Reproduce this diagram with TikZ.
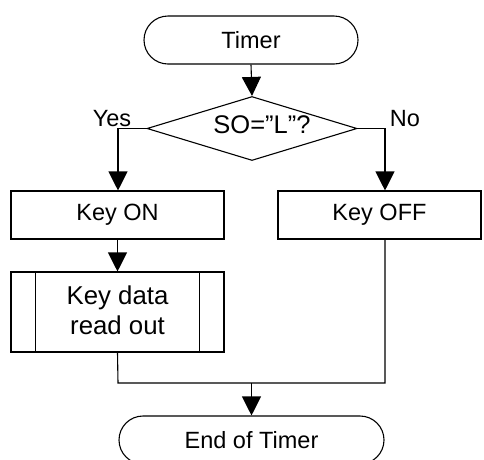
\documentclass[tikz,border=0pt]{standalone}
\usepackage{fontspec}
\setmainfont{Liberation Sans}
\usetikzlibrary{shapes.geometric,arrows.meta}
\begin{document}
\begin{tikzpicture}[x=1pt,y=-1pt,
  every node/.style={font=\fontsize{23.5}{26}\selectfont, inner sep=0pt},
  base/.style={draw, line width=1.1pt},
  term/.style={base, rounded corners=24pt, minimum height=48pt},
  box/.style={base, minimum height=48pt},
  dec/.style={base, diamond, minimum width=210pt, minimum height=64pt},
  conn/.style={line width=1.1pt},
  arr/.style={conn, -{Triangle[width=19pt,length=19pt]}},
  lab/.style={}]
\useasboundingbox (0,0) rectangle (484,459);
\clip (0,0) rectangle (484,459);
\node[term, minimum width=214pt] (start) at (251,40) {Timer};
\node[dec] (d) at (252,128.5) {};
\node[font=\fontsize{25.5}{28}\selectfont] (dt) at (262,124.5) {SO=”L”?};
\node[box, minimum width=213pt] (kon) at (117.5,215) {Key ON};
\node[box, minimum width=203pt] (koff) at (379.5,215) {Key OFF};
\node[base, minimum width=213pt, minimum height=80pt] (proc) at (117.5,312) {};
\node[align=center, font=\fontsize{25.8}{30}\selectfont] (proct) at (117.5,310) {Key data\\read out};
\draw[conn] ([xshift=25pt]proc.north west) -- ([xshift=25pt]proc.south west);
\draw[conn] ([xshift=-25pt]proc.north east) -- ([xshift=-25pt]proc.south east);
\node[term, minimum width=265pt] (end) at (251.5,440) {End of Timer};
\node[lab] (yes) at (112,118.5) {Yes};
\node[lab] (no) at (405,118.5) {No};
\coordinate (rj) at (385,128.5);
\coordinate (lj) at (118,128.5);
\coordinate (bl) at (118,383);
\coordinate (br) at (385,383);
\coordinate (bm) at (251.5,383);
\draw[arr] (start.south) -- (d.north);
\draw[arr] (d.west) -- (lj) -- (lj |- kon.north);
\draw[arr] (d.east) -- (rj) -- (rj |- koff.north);
\draw[arr] (kon.south) -- (proc.north);
\draw[conn] (proc.south) -- (bl) -- (br) -- (br |- koff.south);
\draw[arr] (bm) -- (end.north);
\end{tikzpicture}
\end{document}
